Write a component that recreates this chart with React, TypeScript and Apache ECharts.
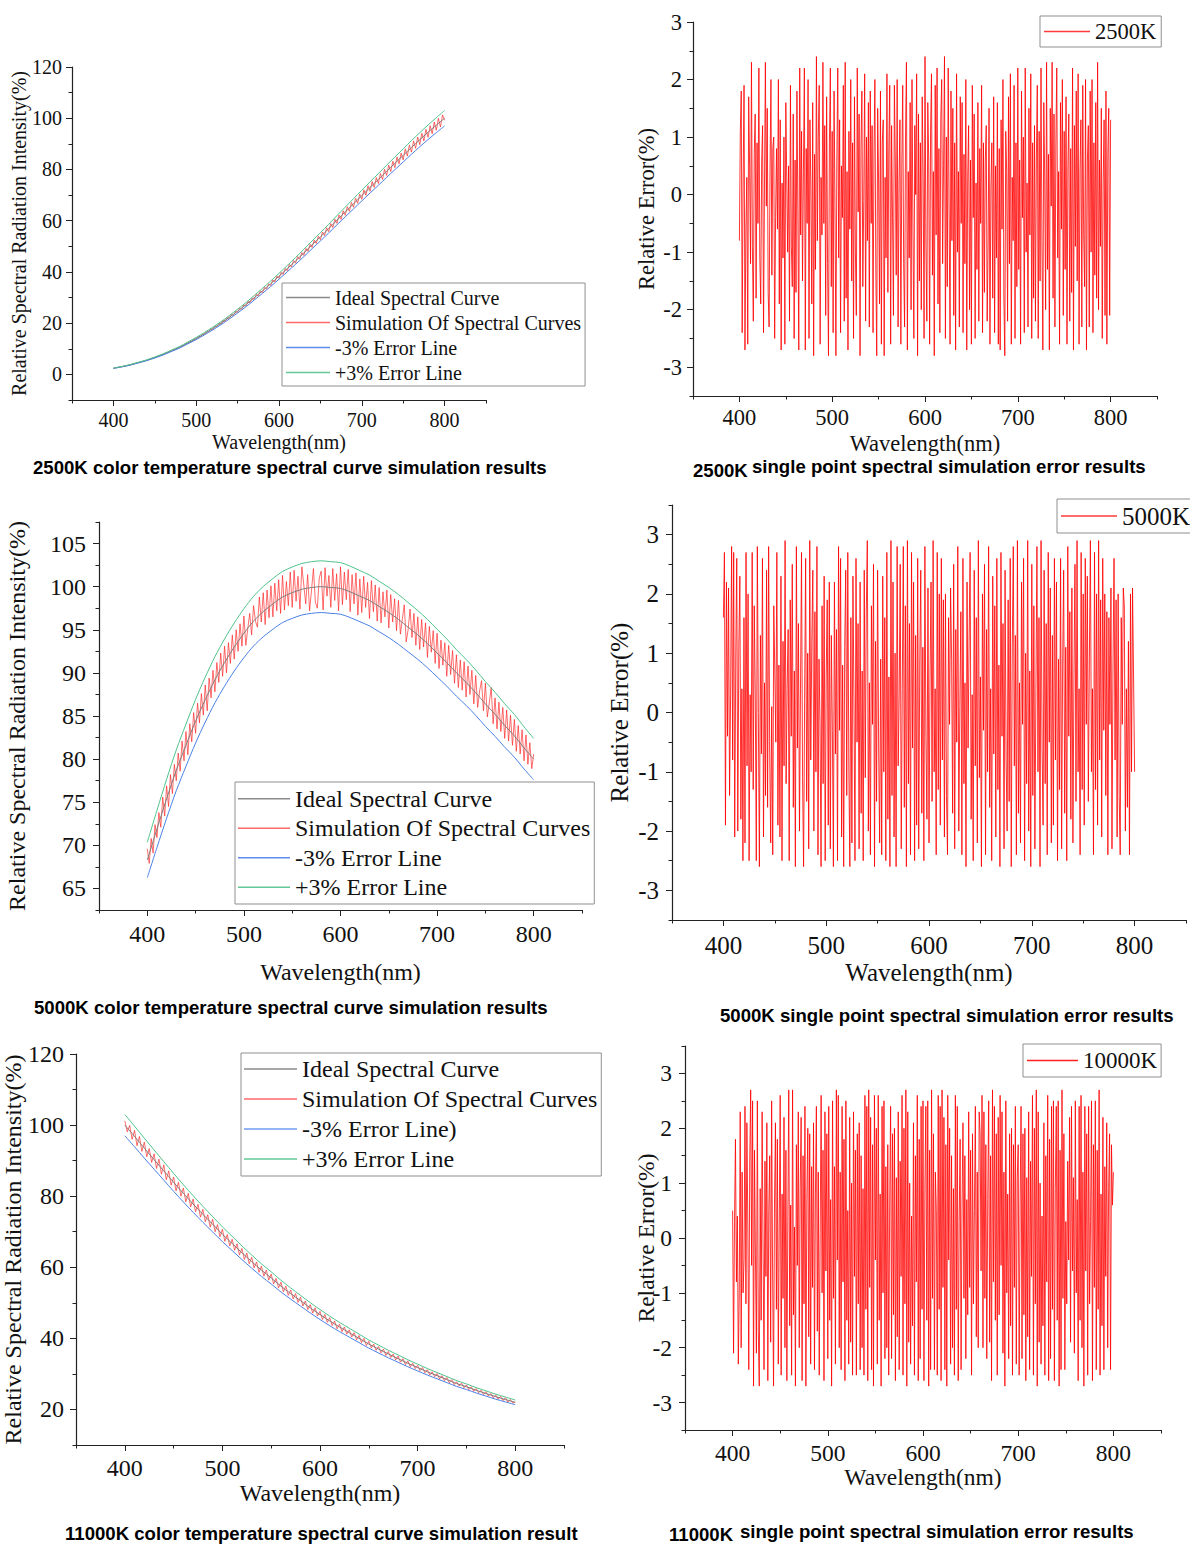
import React, { useEffect, useRef } from "react";
import * as echarts from "echarts";

// ---------------- data ----------------
const WL_START = 400;
const IDEAL_STEP = 10;

const IDEAL_2500K = [2.4, 3.0, 3.7, 4.6, 5.5, 6.6, 7.8, 9.2, 10.6, 12.3,
  14.0, 15.9, 17.9, 20.0, 22.3, 24.7, 27.2, 29.9, 32.6, 35.4,
  38.3, 41.3, 44.3, 47.4, 50.6, 53.7, 56.9, 60.2, 63.4, 66.6,
  69.8, 73.0, 76.1, 79.3, 82.4, 85.5, 88.6, 91.6, 94.5, 97.3,
  100.0];

const IDEAL_5000K = [68.3, 71.9, 75.4, 78.7, 81.6, 84.4, 86.9, 89.2, 91.2, 93.0,
  94.6, 96.0, 97.1, 98.0, 98.8, 99.3, 99.7, 99.9, 100.0, 99.9,
  99.8, 99.4, 98.9, 98.4, 97.7, 97.0, 96.2, 95.3, 94.4, 93.4,
  92.3, 91.2, 90.0, 88.9, 87.7, 86.4, 85.2, 83.9, 82.7, 81.3,
  80.0];

const IDEAL_10000K = [100.0, 96.8, 93.5, 90.3, 87.1, 83.9, 80.8, 77.8, 74.9, 72.1,
  69.3, 66.7, 64.1, 61.6, 59.2, 57.0, 54.7, 52.6, 50.6, 48.6,
  46.7, 44.9, 43.2, 41.6, 40.0, 38.4, 37.0, 35.6, 34.3, 33.0,
  31.8, 30.6, 29.5, 28.4, 27.3, 26.4, 25.4, 24.5, 23.6, 22.8,
  22.0];

const SIM_STEP_2500K = 2.5;
const SIM_2500K = [2.38, 2.58, 2.66, 2.89, 2.95, 3.22, 3.31, 3.58,
  3.64, 3.98, 4.09, 4.44, 4.53, 4.90, 4.97, 5.36,
  5.41, 5.86, 5.95, 6.42, 6.49, 7.02, 7.08, 7.63,
  7.66, 8.30, 8.36, 9.01, 9.03, 9.72, 9.74, 10.44,
  10.42, 11.19, 11.26, 12.12, 12.08, 12.94, 12.91, 13.86,
  13.74, 14.78, 14.68, 15.69, 15.60, 16.72, 16.58, 17.74,
  17.55, 18.76, 18.60, 19.87, 19.63, 21.00, 20.74, 22.12,
  21.86, 23.36, 23.03, 24.58, 24.22, 25.80, 25.42, 27.13,
  26.65, 28.47, 27.98, 29.79, 29.28, 31.21, 30.62, 32.55,
  31.92, 33.98, 33.30, 35.40, 34.67, 36.84, 36.10, 38.36,
  37.51, 39.84, 38.98, 41.38, 40.45, 42.90, 41.92, 44.43,
  43.38, 46.01, 44.91, 47.55, 46.42, 49.17, 47.99, 50.80,
  49.56, 52.43, 51.08, 53.96, 52.60, 55.59, 54.16, 57.23,
  55.73, 58.86, 57.34, 60.59, 58.96, 62.22, 60.53, 63.86,
  62.10, 65.49, 63.66, 67.12, 65.23, 68.75, 66.79, 70.38,
  68.36, 72.02, 69.93, 73.65, 71.50, 75.28, 73.01, 76.81,
  74.54, 78.44, 76.10, 80.08, 77.67, 81.71, 79.19, 83.24,
  80.70, 84.87, 82.22, 86.40, 83.74, 88.03, 85.26, 89.56,
  86.78, 91.14, 88.25, 92.67, 89.72, 94.15, 91.14, 95.68,
  92.56, 97.10, 93.93, 98.53, 95.30, 99.96, 96.62, 101.29,
  99.2];

const SIM_STEP_5000K = 2;
const SIM_5000K = [69.6, 67.9, 70.8, 69.1, 72.4, 70.9, 73.8, 72.1, 75.6, 73.4,
  76.9, 74.5, 78.2, 76.0, 79.4, 77.5, 80.7, 78.6, 82.1, 79.8,
  83.2, 80.5, 84.1, 82.0, 85.4, 83.0, 86.5, 84.2, 87.6, 85.1,
  88.6, 85.6, 89.4, 87.1, 90.3, 87.8, 91.2, 88.9, 92.3, 89.6,
  93.1, 90.0, 93.5, 91.1, 94.4, 91.6, 95.0, 92.5, 95.7, 93.1,
  96.6, 93.2, 95.1, 96.9, 94.4, 97.8, 96.0, 95.3, 98.8, 95.9,
  99.3, 95.6, 99.6, 96.4, 100.1, 96.5, 100.4, 97.2, 100.8, 96.9,
  101.3, 97.3, 100.6, 97.8, 101.7, 97.6, 101.9, 98.3, 101.2, 97.4,
  102.3, 100.2, 98.0, 101.4, 97.2, 99.6, 102.1, 98.2, 97.5, 101.0,
  101.8, 97.3, 102.2, 98.9, 101.3, 97.6, 102.1, 98.4, 101.5, 97.2,
  102.3, 97.9, 101.7, 98.5, 102.0, 97.1, 101.4, 98.0, 101.6, 96.7,
  100.9, 97.0, 101.2, 97.6, 100.5, 96.3, 100.7, 97.1, 100.2, 96.0,
  99.9, 95.8, 99.4, 96.5, 99.6, 95.2, 99.1, 95.9, 98.6, 94.9,
  98.4, 94.5, 96.2, 97.9, 93.6, 95.0, 97.4, 94.1, 96.9, 93.2,
  96.5, 92.7, 96.2, 93.0, 95.8, 91.8, 95.4, 92.4, 94.9, 91.1,
  94.6, 90.5, 93.8, 90.9, 93.5, 89.6, 93.2, 89.8, 92.6, 88.8,
  92.1, 88.3, 91.5, 88.0, 91.3, 87.2, 90.8, 87.5, 90.3, 86.4,
  89.7, 86.0, 87.9, 89.1, 85.6, 88.8, 84.9, 86.5, 88.3, 84.1,
  87.1, 83.5, 86.6, 83.2, 86.0, 82.4, 85.7, 82.1, 85.1, 81.6,
  84.6, 80.9, 83.9, 80.6, 83.4, 79.8, 82.8, 79.4, 81.9, 78.9,
  80.6];

const SIM_STEP_10000K = 2.5;
const SIM_10000K = [101.2, 98.1, 99.9, 96.0, 98.5, 94.2, 96.8, 92.6,
  95.2, 91.1, 93.4, 89.5, 91.9, 87.8, 90.4, 86.2,
  88.8, 84.6, 87.1, 83.1, 85.4, 81.5, 83.9, 80.0,
  82.3, 78.4, 80.8, 77.0, 79.2, 75.6, 77.7, 74.1,
  76.3, 72.8, 74.8, 71.3, 73.5, 70.0, 72.0, 68.6,
  70.7, 67.3, 69.2, 66.0, 67.9, 64.8, 66.6, 63.5,
  65.3, 62.2, 64.0, 61.0, 62.8, 59.8, 61.5, 58.6,
  60.3, 57.5, 59.2, 56.4, 58.1, 55.3, 56.9, 54.2,
  55.8, 53.1, 54.7, 52.1, 53.6, 51.1, 52.6, 50.1,
  51.6, 49.1, 50.5, 48.1, 49.5, 47.1, 48.6, 46.3,
  47.6, 45.3, 46.7, 44.5, 45.8, 43.6, 44.9, 42.7,
  44.0, 41.9, 43.2, 41.2, 42.4, 40.4, 41.6, 39.6,
  40.8, 38.8, 40.0, 38.0, 39.2, 37.3, 38.4, 36.6,
  37.7, 35.9, 37.0, 35.2, 36.3, 34.6, 35.6, 33.9,
  35.0, 33.3, 34.3, 32.6, 33.7, 32.0, 33.0, 31.5,
  32.4, 30.9, 31.8, 30.3, 31.2, 29.7, 30.6, 29.2,
  30.1, 28.6, 29.5, 28.1, 29.0, 27.5, 28.4, 27.0,
  27.8, 26.6, 27.4, 26.1, 26.9, 25.6, 26.4, 25.1,
  25.9, 24.7, 25.4, 24.2, 25.0, 23.8, 24.5, 23.3,
  24.1, 22.9, 23.7, 22.5, 23.3, 22.1, 22.8, 21.8,
  22.1];

const ERR_STEP = 1;
const ERR_2500K = [
  -0.8, 1.1, 1.8, -2.4, 0.2, 1.9, -2.7, -0.6, 0.3, -2.6, 1.7, 0.5, -1.2, 2.3, -0.9, -2.2, 0.7, 1.4, -1.8, 0.9,
  -0.5, 2.2, -1.1, -1.9, 0.6, 1.2, -2.4, 0.1, 2.3, -0.2, 1.5, -1.7, -2.3, 0.4, 2.0, -1.4, 0.8, 1.0, -2.5, -0.4,
  0.8, -0.6, 2.0, -1.9, 1.3, -2.7, 0.2, -1.1, 1.0, -2.6, 1.6, 0.3, -1.0, 0.5, -2.2, 1.9, -0.9, -1.6, 1.4, -2.5,
  0.6, -1.7, 1.8, -0.3, -2.7, 2.2, -0.7, 1.1, -1.5, 0.4, 2.2, -2.7, 0.8, -0.5, 2.0, -2.5, 1.3, 0.1, -1.9, 1.6,
  -2.8, 0.7, -1.3, 2.4, -0.8, 1.0, 1.9, -2.6, 0.3, -0.7, 2.3, -0.5, 1.2, -2.1, 1.7, -1.2, -2.8, 0.9, 2.2, -1.6,
  1.1, -2.4, 1.8, -0.2, -2.8, 0.6, 2.2, -1.1, 1.3, -2.4, 0.5, -0.4, 1.9, -2.2, 2.3, -1.8, 0.4, -2.7, 1.1, -0.6,
  2.0, -1.5, 0.9, -2.5, 1.7, -1.0, -2.1, 2.2, -0.3, 1.4, -2.8, 0.8, 1.8, -1.6, -0.1, 2.1, -2.2, 1.0, -0.8, 1.6,
  -2.3, 1.8, -0.5, 1.2, -2.4, 0.7, 2.0, -1.3, -2.8, 1.5, 0.2, -1.9, 1.8, -2.6, 0.9, 1.3, -2.8, 0.3, -1.1, 2.1,
  -1.7, 0.8, 1.9, -2.6, 1.2, -0.4, -2.1, 1.9, 0.6, -1.4, 2.0, -2.3, 0.2, 1.3, -2.6, 0.5, 1.9, -1.2, -2.3, 1.0,
  2.3, -2.7, 0.4, -1.1, 1.6, -2.0, 2.0, -0.6, -2.5, 1.2, 0.0, 2.1, -2.8, 1.4, -1.5, 0.9, -2.0, 1.7, 0.3, -2.5,
  2.4, -0.9, -2.2, 1.6, 0.6, -2.6, 1.1, 2.1, -1.4, 0.4, -2.8, 1.9, -0.7, 2.2, -1.9, 0.8, -2.4, 1.3, 2.0, -1.2,
  0.5, 2.4, -2.5, 1.0, -1.6, 2.2, -0.3, -2.6, 1.8, -0.8, 1.5, -2.1, 0.9, -2.7, 2.1, -1.0, 0.4, -2.3, 1.7, -0.5,
  1.6, -2.4, 0.7, -1.2, 2.0, -2.7, 0.3, 1.2, -2.0, 0.6, -2.6, 1.9, -0.4, 1.4, -2.5, 0.2, -1.3, 1.6, -2.2, 0.8,
  -0.5, 1.9, -2.4, 0.9, -1.7, 0.6, 1.2, -2.2, -0.9, 1.5, -2.6, 0.1, 0.9, -1.8, 1.7, -2.4, 0.5, -1.1, 1.6, -2.6,
  0.8, -2.7, 1.3, -0.6, 2.0, -1.8, -2.8, 1.1, 0.4, -2.2, 1.7, -1.2, 2.1, -2.6, 0.3, -0.8, 1.9, -2.5, 0.9, -1.6,
  2.2, -1.3, 0.6, -2.6, 1.8, -0.4, 1.0, -2.4, 2.2, -1.0, 0.2, -2.3, 1.5, -0.7, 2.1, -2.5, 0.9, -1.8, 1.2, -2.2,
  0.6, 1.9, -2.5, 1.1, -1.5, 2.2, -0.8, -2.7, 1.6, 0.3, -2.0, 2.3, -1.3, 0.7, -2.7, 1.5, -0.2, 2.3, -1.8, 1.4,
  -2.3, 0.9, 2.2, -1.1, 0.4, -2.6, 1.6, -0.6, 2.0, -2.1, 1.1, -1.3, 1.7, -2.6, 0.5, 1.4, -2.2, 0.8, -1.7, 2.2,
  -2.7, 1.2, -0.9, 1.8, -1.5, 2.1, -2.6, 0.4, 1.3, -2.3, 1.9, -0.7, -1.6, 2.0, -2.7, 0.6, 1.2, -2.3, 1.8, -1.0,
  2.0, -2.4, 0.9, -1.4, 1.6, -1.8, 2.3, -2.0, 0.6, -0.9, 1.5, -2.5, 0.2, 1.3, -2.1, 1.8, -2.6, 0.7, 1.5, -2.1,
  1.3];

const ERR_5000K = [
  1.6, 2.7, -1.9, 2.2, -0.4, 2.1, -1.4, 0.3, 2.8, -0.8, 2.7, -2.1, 0.9, 2.6, -2.0, 1.1, 2.3, -1.8, 0.4, -2.5,
  1.6, -2.2, 2.7, -0.9, 2.0, -2.5, 0.3, -1.0, 2.7, -1.3, 1.8, 0.3, -2.5, 2.8, 0.0, -2.6, 1.3, -0.7, 2.6, -2.1,
  0.5, -1.4, 2.4, -1.6, 2.8, -0.6, -2.2, 0.1, -2.4, 1.8, 0.7, -0.5, 2.7, -1.9, 0.8, -2.1, 2.3, -2.5, 1.2, -0.9,
  2.9, -1.2, 0.4, 1.4, -2.5, 1.9, -0.4, 2.5, -1.6, 0.7, -2.6, 2.8, -0.6, 1.5, -2.0, 0.4, 2.7, -1.1, -2.6, 0.2,
  2.6, -1.5, 1.0, -2.3, 2.9, -0.8, 1.2, 2.4, -2.0, 1.7, -1.0, 2.8, -2.4, 0.9, -0.2, -2.6, 1.8, -1.2, 2.3, -2.5,
  0.6, 1.9, -1.9, 2.2, -2.3, 1.3, -0.3, -2.6, 2.2, -0.7, 1.4, -2.5, 2.8, -0.3, 2.6, -2.1, 0.8, -2.6, 1.1, 2.4,
  -1.4, 2.7, -0.9, -2.6, 1.6, -2.2, 2.3, 0.2, -2.5, 2.6, -0.5, 1.5, -2.3, 2.2, -1.7, 0.7, -2.5, 2.4, -1.1, 1.7,
  2.9, -2.0, 0.5, -2.4, 1.8, -0.2, 2.5, -2.6, 1.2, -1.5, 2.4, -0.6, -2.2, 0.9, -2.4, 2.3, -1.0, 1.6, -2.5, 2.7,
  -1.8, 0.6, -2.6, 2.9, -1.4, 2.2, -2.1, 1.0, -2.6, 2.8, -0.9, 0.3, 2.5, -2.3, 0.4, 2.8, -1.6, 1.8, -2.6, 2.9,
  -1.2, 1.5, -2.4, 2.7, -0.6, 2.2, -2.5, 1.3, -1.9, 2.6, -2.3, 0.8, 2.4, -1.7, 1.1, -2.5, 2.8, -0.4, -1.8, 2.1,
  -2.2, 0.6, 2.2, -1.5, 2.9, -1.0, 0.4, -2.4, 2.7, -1.3, 2.0, -1.9, 2.6, -0.8, 1.9, -2.1, 2.0, -1.4, -2.4, 1.6,
  -0.2, 2.1, 0.9, -1.7, 2.5, -2.3, 1.4, -0.5, 2.8, -2.0, 0.1, 1.7, -2.4, 2.6, -1.2, 0.5, -2.6, 2.2, -0.6, 1.2,
  2.7, -1.8, 0.3, -2.5, 2.4, -0.9, 1.6, -2.2, 2.9, -1.1, 0.6, -2.6, 2.0, -0.3, 2.5, -2.4, 1.4, -1.0, 2.8, -1.6,
  0.4, -2.5, 2.3, -0.7, 1.8, -2.1, 2.6, -1.3, 0.8, -2.6, 2.7, -0.4, 1.5, -2.3, 2.4, -0.8, -2.0, 1.9, -1.5, 2.6,
  -2.6, 1.1, 2.8, -0.9, 1.3, -2.4, 2.9, -1.7, 0.5, -2.2, 2.2, -0.2, 2.6, -2.5, 1.0, -1.2, 2.9, -2.0, 0.7, -2.6,
  2.5, -1.4, 1.8, -2.3, 0.4, 2.8, -1.0, 1.6, -2.6, 2.9, -0.6, -1.9, 2.4, -1.2, 1.5, -2.4, 2.7, -0.5, 2.1, -2.2,
  1.3, -1.9, 2.6, -0.8, 2.2, -2.5, 0.9, -1.3, 2.6, -2.3, 0.8, 2.4, -1.7, 1.1, -2.5, 2.8, -0.4, 1.7, -1.8, 2.1,
  -2.2, 0.6, 2.5, -1.5, 2.9, -1.0, 0.4, -2.4, 2.7, -1.3, 2.0, -1.9, 2.6, -0.2, 2.3, -1.5, 0.9, 2.9, -1.0, 0.4,
  -2.4, 2.7, -1.3, 2.0, -1.9, 2.9, -0.8, 1.9, -2.1, 2.6, -0.3, 2.0, -1.4, 1.7, -2.4, 1.6, -0.2, 2.1, -2.3, 0.8,
  2.6, -0.8, 1.9, -2.1, 2.0, -1.4, -2.4, 1.6, -0.2, 2.1, 1.8, -2.0, 0.4, -1.6, 1.2, -2.4, 2.0, -1.0, 2.1, 0.6,
  -1.0];

const ERR_10000K = [
  0.5, -2.1, 0.3, 1.8, -0.8, 0.4, -2.3, -1.0, 2.3, -2.0, 1.2, -1.0, -0.4, 2.4, -1.2, 2.1, 0.2, -2.4, 1.4, 2.7,
  -0.5, 2.5, -2.7, 1.6, -0.3, -2.1, 2.5, -1.7, -2.7, 0.9, -1.5, 2.3, -0.2, -2.4, 1.4, -0.7, 2.1, -2.6, 0.5, 1.5,
  -1.9, 2.5, -0.6, -2.7, 0.6, 2.1, -1.3, 1.8, -2.3, 0.2, 2.6, -2.5, 0.8, -1.1, 2.2, -2.0, 1.6, -2.6, 0.3, 2.7,
  -1.6, 0.6, -2.5, 2.7, -1.4, 0.2, -2.7, 1.7, -0.5, 2.3, -2.0, 0.9, 2.2, -2.6, 1.5, -1.2, 2.4, -2.7, 0.7, 2.0,
  -1.8, 1.9, -2.3, 1.3, -0.9, 2.1, -2.4, 0.8, 2.4, -1.7, 1.2, -2.5, 0.1, 2.6, -1.0, 1.6, -2.6, 2.3, -0.6, 1.9,
  -2.2, 2.4, -1.5, 0.7, -2.7, 2.5, -1.1, 1.3, -2.3, 2.7, -0.4, 2.6, -2.0, 1.2, -2.4, 2.4, -0.8, 1.8, -2.6, 2.5,
  -1.5, 0.5, -2.3, 2.2, -1.9, 1.0, -2.5, 2.3, -0.7, 1.6, -2.5, 1.9, -1.2, 2.1, -2.4, 1.5, -2.0, 0.9, -2.5, 2.6,
  -1.3, 2.4, -2.6, 2.7, -0.9, 2.2, -2.4, 1.7, -2.7, 2.6, -0.4, 2.0, -2.3, 2.6, -1.5, 0.8, -2.7, 2.4, -1.0, 2.5,
  -2.2, 1.3, -2.0, 1.7, -2.5, 0.6, 2.4, -2.2, 1.9, -1.4, 2.0, -2.6, 1.1, -1.8, 2.3, -2.4, 1.4, -0.7, 2.6, -2.5,
  2.0, -1.2, 2.7, -2.7, 2.3, -1.9, 1.0, -2.3, 0.4, -1.6, 2.1, -2.5, 1.5, -0.8, 2.6, -2.6, 1.8, -2.2, 2.4, -1.3,
  2.5, -2.6, 0.9, 2.4, -1.5, 2.5, -2.7, 1.6, -2.4, 2.7, -1.1, 1.9, -2.4, 1.2, 0.5, -2.5, 2.6, -1.3, 2.4, -2.6,
  2.7, -0.9, 2.2, -2.4, 1.7, -2.7, 2.6, -0.4, 2.0, -2.3, 1.5, -2.0, 0.9, -2.5, 2.6, -1.3, 2.4, -2.6, 0.3, 1.8,
  -2.4, 0.6, 2.1, -1.1, 1.5, -2.2, 0.7, -1.4, 2.3, -0.9, 1.6, -2.5, 1.9, -1.2, 0.5, 2.4, -1.8, 1.2, -2.0, 2.3,
  1.9, -0.6, 2.6, -2.0, 2.3, -1.1, 1.7, -2.2, 0.7, 2.5, -1.9, 1.5, -2.6, 2.7, -0.8, 2.4, -1.5, 1.9, -2.5, 2.2,
  -1.4, 2.6, -0.5, 2.3, -2.1, 1.2, -2.7, 2.5, -1.0, 0.8, -2.2, 1.9, -1.6, 2.0, -2.5, 1.7, -0.9, 2.4, -2.3, 1.1,
  1.7, -2.5, 0.6, 2.4, -2.2, 1.9, -1.4, 2.0, -2.6, 1.1, -1.8, 2.3, -2.4, 1.4, -0.7, 2.6, -2.5, 2.0, -1.2, 2.7,
  -2.7, 2.3, -1.9, 1.0, -2.3, 0.4, -1.6, 2.1, -2.5, 1.5, -0.8, 2.6, -2.6, 1.8, -2.2, 2.4, -1.3, 2.5, -2.6, 0.9,
  2.4, -1.5, 2.5, -2.7, 1.6, -2.4, 2.7, -1.1, 1.9, -2.4, 0.3, -1.2, 1.4, -0.4, 2.2, -1.9, 2.4, -0.6, 1.1, -2.1,
  2.5, -1.0, 0.7, -2.6, 2.4, -1.5, 2.6, -2.0, 1.2, -2.7, 2.4, -0.6, 1.9, -2.5, 2.4, -1.2, 0.3, 2.5, -2.6, 1.7,
  -0.9, 2.5, -2.4, 1.6, -1.3, 2.7, -2.5, 0.8, -1.6, 2.2, -2.4, 1.3, -0.7, 2.1, -2.0, 0.9, 1.9, -2.4, 1.7, 0.6,
  1.2];

const X_MIN = 350;
const X_MAX = 850;
const X_MAJOR = [400, 500, 600, 700, 800];
const X_MINOR = [350, 450, 550, 650, 750, 850];

const Y1_MAJOR = [0, 20, 40, 60, 80, 100, 120];
const Y1_MINOR = [-10, 10, 30, 50, 70, 90, 110];
const Y3_MAJOR = [65, 70, 75, 80, 85, 90, 95, 100, 105];
const Y3_MINOR = [62.5, 67.5, 72.5, 77.5, 82.5, 87.5, 92.5, 97.5, 102.5, 107.5];
const Y5_MAJOR = [20, 40, 60, 80, 100, 120];
const Y5_MINOR = [10, 30, 50, 70, 90, 110];
const YE_MAJOR = [-3, -2, -1, 0, 1, 2, 3];
const YE_MINOR = [-3.5, -2.5, -1.5, -0.5, 0.5, 1.5, 2.5, 3.5];

const LEGEND_SPECTRAL = ["Ideal Spectral Curve", "Simulation Of Spectral Curves", "-3% Error Line", "+3% Error Line"];
const LEGEND_SPECTRAL_11000 = ["Ideal Spectral Curve", "Simulation Of Spectral Curves", "-3% Error Line)", "+3% Error Line"];

// ---------------- styles ----------------
const SERIF = '"Liberation Serif", "Times New Roman", Times, serif';
const SANS = '"Liberation Sans", Arial, Helvetica, sans-serif';
const INK = "#111111";
const AXIS = "#222222";
const GRAY = "#7d7d7d";
const RED = "#ff1a1a";
const BLUE = "#4a80e6";
const GREEN = "#4fc28a";
const ERR_RED = "#ff0000";

const LEGEND_COLORS: Record<string, string> = {
  "Ideal Spectral Curve": "#8a8a8a",
  "Simulation Of Spectral Curves": "#ff6a6a",
  "-3% Error Line": "#5b8def",
  "-3% Error Line)": "#6f9cf2",
  "+3% Error Line": "#62c996",
  "2500K": "#ff3b3b",
  "5000K": "#ff3b3b",
  "10000K": "#ff2020",
};

const SPECTRAL_Y_NAME = "Relative Spectral Radiation Intensity(%)";
const ERROR_Y_NAME = "Relative Error(%)";

type Panel = {
  grid: { left: number; top: number; width: number; height: number };
  yMin: number; yMax: number; yMajor: number[]; yMinor: number[];
  font: number; xLabelMargin: number; yLabelMargin: number; xNameGap: number; yNameGap: number; yName: string;
};

const PANELS: Panel[] = [
  { grid: { left: 72, top: 67, width: 414, height: 333 }, yMin: -10, yMax: 120, yMajor: Y1_MAJOR, yMinor: Y1_MINOR,
    font: 20, xLabelMargin: 10, yLabelMargin: 10, xNameGap: 32, yNameGap: 43, yName: SPECTRAL_Y_NAME },
  { grid: { left: 693, top: 22, width: 464, height: 374 }, yMin: -3.5, yMax: 3, yMajor: YE_MAJOR, yMinor: YE_MINOR.slice(0, 7),
    font: 22.5, xLabelMargin: 10, yLabelMargin: 11, xNameGap: 36, yNameGap: 35, yName: ERROR_Y_NAME },
  { grid: { left: 99, top: 522, width: 483, height: 388 }, yMin: 62.5, yMax: 107.5, yMajor: Y3_MAJOR, yMinor: Y3_MINOR,
    font: 24, xLabelMargin: 12, yLabelMargin: 13, xNameGap: 50, yNameGap: 70, yName: SPECTRAL_Y_NAME },
  { grid: { left: 672, top: 505, width: 514, height: 415 }, yMin: -3.5, yMax: 3.5, yMajor: YE_MAJOR, yMinor: YE_MINOR,
    font: 25, xLabelMargin: 13, yLabelMargin: 13, xNameGap: 40, yNameGap: 40, yName: ERROR_Y_NAME },
  { grid: { left: 75, top: 1054, width: 489, height: 391 }, yMin: 10, yMax: 120, yMajor: Y5_MAJOR, yMinor: Y5_MINOR,
    font: 24, xLabelMargin: 11, yLabelMargin: 12, xNameGap: 36, yNameGap: 51, yName: SPECTRAL_Y_NAME },
  { grid: { left: 685, top: 1046, width: 476, height: 384 }, yMin: -3.5, yMax: 3.5, yMajor: YE_MAJOR, yMinor: YE_MINOR,
    font: 23.5, xLabelMargin: 11, yLabelMargin: 13, xNameGap: 35, yNameGap: 27, yName: ERROR_Y_NAME },
];

const CAPTION_FONT = 18.6;
const CAPTIONS = [
  { text: "2500K color temperature spectral curve simulation results", x: 33, y: 467 },
  { text: "2500K", x: 693, y: 470 },
  { text: "single point spectral simulation error results", x: 752, y: 466 },
  { text: "5000K color temperature spectral curve simulation results", x: 34, y: 1007 },
  { text: "5000K single point spectral simulation error results", x: 720, y: 1015 },
  { text: "11000K color temperature spectral curve simulation result", x: 65, y: 1533 },
  { text: "11000K", x: 669, y: 1534 },
  { text: "single point spectral simulation error results", x: 740, y: 1531 },
];

// ---------------- helpers ----------------
const toPairs = (vals: number[], step: number) => vals.map((v, i) => [WL_START + i * step, v]);
const toBand = (vals: number[], step: number, k: number) =>
  vals.map((v, i) => [WL_START + i * step, Math.round(v * k * 1000) / 1000]);

function axesFor(p: Panel, i: number) {
  const tickLine = { color: AXIS, width: 1 };
  const xMajor = {
    gridIndex: i, type: "value", min: X_MIN, max: X_MAX, position: "bottom",
    name: "Wavelength(nm)", nameLocation: "middle", nameGap: p.xNameGap, nameMoveOverlap: false,
    nameTextStyle: { fontFamily: SERIF, fontSize: p.font, color: INK },
    axisLine: { show: true, onZero: false, lineStyle: { color: AXIS, width: 1.2 } },
    axisTick: { show: true, inside: false, length: 6, customValues: X_MAJOR, lineStyle: tickLine },
    axisLabel: { show: true, customValues: X_MAJOR, margin: p.xLabelMargin, fontFamily: SERIF, fontSize: p.font, color: INK },
    splitLine: { show: false },
  };
  const xMinor = {
    gridIndex: i, type: "value", min: X_MIN, max: X_MAX, position: "bottom",
    axisLine: { show: false, onZero: false },
    axisTick: { show: true, inside: false, length: 3.5, customValues: X_MINOR, lineStyle: tickLine },
    axisLabel: { show: false },
    splitLine: { show: false },
  };
  const yMajor = {
    gridIndex: i, type: "value", min: p.yMin, max: p.yMax, position: "left",
    name: p.yName, nameLocation: "middle", nameGap: p.yNameGap, nameRotate: 90, nameMoveOverlap: false,
    nameTextStyle: { fontFamily: SERIF, fontSize: p.font, color: INK },
    axisLine: { show: true, onZero: false, lineStyle: { color: AXIS, width: 1.2 } },
    axisTick: { show: true, inside: false, length: 6, customValues: p.yMajor, lineStyle: tickLine },
    axisLabel: { show: true, customValues: p.yMajor, margin: p.yLabelMargin, fontFamily: SERIF, fontSize: p.font, color: INK },
    splitLine: { show: false },
  };
  const yMinor = {
    gridIndex: i, type: "value", min: p.yMin, max: p.yMax, position: "left",
    axisLine: { show: false, onZero: false },
    axisTick: { show: true, inside: false, length: 3.5, customValues: p.yMinor, lineStyle: tickLine },
    axisLabel: { show: false },
    splitLine: { show: false },
  };
  return { x: [xMajor, xMinor], y: [yMajor, yMinor] };
}

function spectralSeries(i: number, ideal: number[], sim: number[], simStep: number, minusName: string) {
  const base = { type: "line", xAxisIndex: i * 2, yAxisIndex: i * 2, symbol: "none", showSymbol: false, silent: true };
  return [
    { ...base, name: "Simulation Of Spectral Curves", data: toPairs(sim, simStep), color: RED,
      lineStyle: { color: RED, width: 0.8, opacity: 0.8 }, itemStyle: { color: RED }, z: 2 },
    { ...base, name: "Ideal Spectral Curve", data: toPairs(ideal, IDEAL_STEP), color: GRAY, smooth: 0.3,
      lineStyle: { color: GRAY, width: 1 }, itemStyle: { color: GRAY }, z: 3 },
    { ...base, name: minusName, data: toBand(ideal, IDEAL_STEP, 0.97), color: BLUE, smooth: 0.3,
      lineStyle: { color: BLUE, width: 1 }, itemStyle: { color: BLUE }, z: 3 },
    { ...base, name: "+3% Error Line", data: toBand(ideal, IDEAL_STEP, 1.03), color: GREEN, smooth: 0.3,
      lineStyle: { color: GREEN, width: 1 }, itemStyle: { color: GREEN }, z: 3 },
  ];
}

function errorSeries(i: number, name: string, vals: number[]) {
  return [{
    type: "line", name, xAxisIndex: i * 2, yAxisIndex: i * 2, symbol: "none", showSymbol: false, silent: true,
    data: toPairs(vals, ERR_STEP), color: ERR_RED,
    lineStyle: { color: ERR_RED, width: 0.9, opacity: 0.9 }, itemStyle: { color: ERR_RED },
  }];
}

function legendBox(names: string[], left: number, top: number, font: number, lineH: number, itemWidth: number, padding: number[]) {
  return {
    show: true, orient: "vertical", left, top, selectedMode: false,
    data: names.map((n) => ({
      name: n, icon: "rect",
      itemStyle: { color: LEGEND_COLORS[n], borderColor: LEGEND_COLORS[n], borderWidth: 0, opacity: 1 },
    })),
    itemWidth, itemHeight: 1.4, itemGap: 0, padding,
    itemStyle: { borderWidth: 0 },
    borderColor: "#8f8f8f", borderWidth: 1, borderRadius: 0, backgroundColor: "#ffffff",
    textStyle: { fontFamily: SERIF, fontSize: font, color: INK, lineHeight: lineH },
  };
}

function buildOption() {
  const xAxis: any[] = [];
  const yAxis: any[] = [];
  PANELS.forEach((p, i) => {
    const a = axesFor(p, i);
    xAxis.push(...a.x);
    yAxis.push(...a.y);
  });
  const series = [
    ...spectralSeries(0, IDEAL_2500K, SIM_2500K, SIM_STEP_2500K, "-3% Error Line"),
    ...errorSeries(1, "2500K", ERR_2500K),
    ...spectralSeries(2, IDEAL_5000K, SIM_5000K, SIM_STEP_5000K, "-3% Error Line"),
    ...errorSeries(3, "5000K", ERR_5000K),
    ...spectralSeries(4, IDEAL_10000K, SIM_10000K, SIM_STEP_10000K, "-3% Error Line)"),
    ...errorSeries(5, "10000K", ERR_10000K),
  ];
  const legend = [
    legendBox(LEGEND_SPECTRAL, 282, 283, 20, 25, 44, [2, 4, 1, 4]),
    legendBox(["2500K"], 1040, 16, 22.5, 27, 46, [2, 5, 2, 4]),
    legendBox(LEGEND_SPECTRAL, 235, 782, 24, 29.5, 52, [2, 4, 2, 3]),
    legendBox(["5000K"], 1057, 499, 25, 30, 56, [2, 6, 2, 4]),
    legendBox(LEGEND_SPECTRAL_11000, 241, 1053, 24, 30, 53, [1, 4, 2, 3]),
    legendBox(["10000K"], 1023, 1044, 23, 29, 51, [2, 4, 2, 4]),
  ];
  const graphic = CAPTIONS.map((c) => ({
    type: "text", x: c.x, y: c.y, silent: true,
    style: { text: c.text, fontFamily: SANS, fontWeight: "bold", fontSize: CAPTION_FONT, fill: "#000000", align: "left", verticalAlign: "middle" },
  }));
  return {
    animation: false,
    backgroundColor: "#ffffff",
    grid: PANELS.map((p) => ({ ...p.grid, show: false, containLabel: false })),
    xAxis, yAxis, series, legend, graphic,
  };
}

export default function App() {
  const ref = useRef<HTMLDivElement>(null);
  useEffect(() => {
    if (!ref.current) return;
    const chart = echarts.init(ref.current, null, { renderer: "svg", width: 1190, height: 1545 });
    chart.setOption(buildOption() as any);
    return () => chart.dispose();
  }, []);
  return (
    <div
      ref={ref}
      style={{ position: "absolute", left: 0, top: 0, width: 1190, height: 1545, background: "#ffffff" }}
    />
  );
}
